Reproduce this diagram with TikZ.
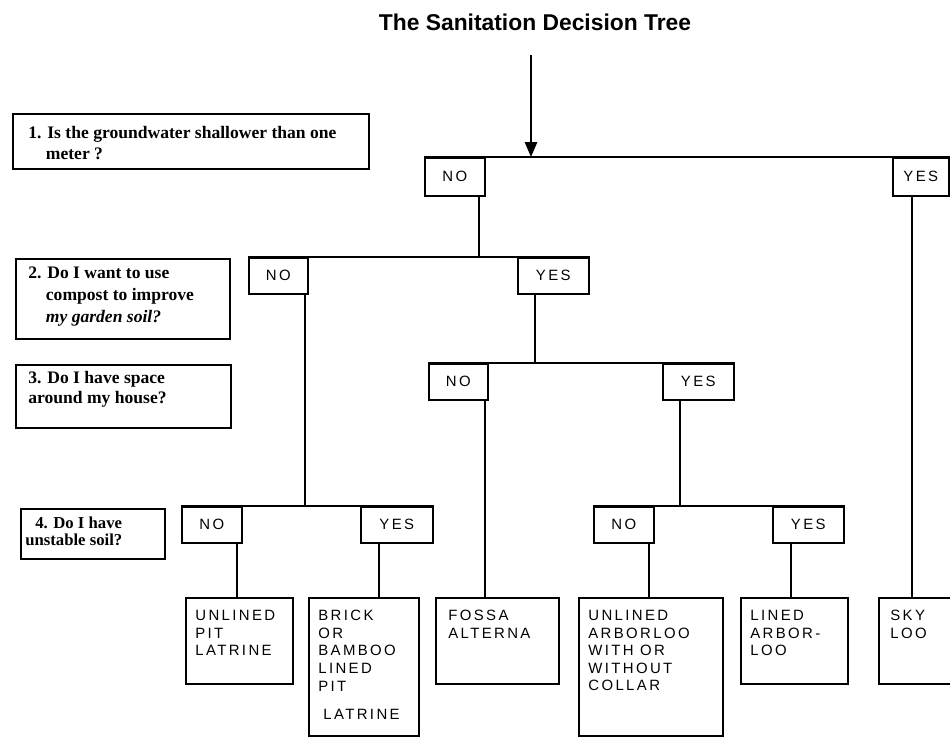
\documentclass[tikz,border=0pt]{standalone}
\usepackage{fontspec}
\setmainfont{Liberation Serif}
\newfontfamily\boxfont[LetterSpace=16]{Liberation Sans}
\newfontfamily\headfont{Liberation Sans}
\usetikzlibrary{arrows.meta}

\newdimen\pxu
\pxu=0.02cm

\tikzset{
  box/.style={draw, line width=0.9pt, anchor=north west, inner sep=0pt, minimum height=36\pxu},
  answer/.style={box, font=\boxfont\fontsize{8.5}{10}\selectfont},
  leaf/.style={box},
  leaftext/.style={anchor=north west, align=left, inner sep=0pt, font=\boxfont\fontsize{8.5}{10}\selectfont},
  question/.style={box},
  qtext/.style={anchor=north west, align=left, inner sep=0pt, font=\bfseries\fontsize{10}{12}\selectfont},
  link/.style={line width=0.9pt},
}

\begin{document}
\begin{tikzpicture}[x=0.02cm, y=-0.02cm]
    \useasboundingbox (0,0) rectangle (950,738);

    \node[font=\headfont\bfseries\fontsize{13}{15}\selectfont] (title) at (535,22) {The Sanitation Decision Tree};

    % questions on the left
    \node[question, minimum width=356\pxu, minimum height=55\pxu] (q1) at (12,113) {};
    \node[qtext] (q1text) at ([xshift=16\pxu, yshift=-13\pxu]q1.north west) {1. Is the groundwater shallower than one\\\hspace*{1em}meter ?};

    \node[question, minimum width=214\pxu, minimum height=80\pxu] (q2) at (15,258) {};
    \node[qtext, font=\bfseries\fontsize{10}{12.5}\selectfont] (q2text) at ([xshift=13\pxu, yshift=-9\pxu]q2.north west) {2. Do I want to use\\\hspace*{1em}compost to improve\\\hspace*{1em}\textit{my garden soil?}};

    \node[question, minimum width=215\pxu, minimum height=63\pxu] (q3) at (15,364) {};
    \node[qtext, font=\bfseries\fontsize{10}{11.4}\selectfont] (q3text) at ([xshift=13\pxu, yshift=-7\pxu]q3.north west) {3. Do I have space\\around my house?};

    \node[question, minimum width=144\pxu, minimum height=50\pxu] (q4) at (20,508) {};
    \node[qtext, font=\bfseries\fontsize{9.5}{9.5}\selectfont] (q4text) at ([xshift=5\pxu, yshift=-9\pxu]q4.north west) {\hspace*{10\pxu}4. Do I have\\unstable soil?};

    % answer boxes
    \node[answer, minimum width=60\pxu, minimum height=38\pxu] (no1) at (424,157) {NO};
    \node[answer, minimum width=56\pxu, minimum height=38\pxu] (yes1) at (892,157) {YES};

    \node[answer, minimum width=59\pxu] (no2) at (248,257) {NO};
    \node[answer, minimum width=71\pxu] (yes2) at (517,257) {YES};

    \node[answer, minimum width=59\pxu] (no3) at (428,363) {NO};
    \node[answer, minimum width=71\pxu] (yes3) at (662,363) {YES};

    \node[answer, minimum width=60\pxu] (no4a) at (181,506) {NO};
    \node[answer, minimum width=72\pxu] (yes4a) at (360,506) {YES};
    \node[answer, minimum width=60\pxu] (no4b) at (593,506) {NO};
    \node[answer, minimum width=71\pxu] (yes4b) at (772,506) {YES};

    % end boxes
    \node[leaf, minimum width=107\pxu, minimum height=86\pxu] (pit) at (185,597) {};
    \node[leaf, minimum width=110\pxu, minimum height=138\pxu] (brick) at (308,597) {};
    \node[leaf, minimum width=123\pxu, minimum height=86\pxu] (fossa) at (435,597) {};
    \node[leaf, minimum width=144\pxu, minimum height=138\pxu] (arbor) at (578,597) {};
    \node[leaf, minimum width=107\pxu, minimum height=86\pxu] (linedarbor) at (740,597) {};
    \node[leaf, minimum width=90\pxu, minimum height=86\pxu] (skyloo) at (878,597) {};

    \node[leaftext] (pittext) at ([xshift=10\pxu, yshift=-13\pxu]pit.north west) {UNLINED\\PIT\\LATRINE};
    \node[leaftext] (bricktext) at ([xshift=10\pxu, yshift=-13\pxu]brick.north west) {BRICK\\OR\\BAMBOO\\LINED\\PIT\\[6pt]\hspace*{5\pxu}LATRINE};
    \node[leaftext] (fossatext) at ([xshift=13\pxu, yshift=-13\pxu]fossa.north west) {FOSSA\\ALTERNA};
    \node[leaftext] (arbortext) at ([xshift=10\pxu, yshift=-13\pxu]arbor.north west) {UNLINED\\ARBORLOO\\WITH OR\\WITHOUT\\COLLAR};
    \node[leaftext] (linedarbortext) at ([xshift=10\pxu, yshift=-13\pxu]linedarbor.north west) {LINED\\ARBOR-\\LOO};
    \node[leaftext] (skylootext) at ([xshift=12\pxu, yshift=-13\pxu]skyloo.north west) {SKY\\LOO};

    % junctions
    \coordinate (start) at (531,55);
    \coordinate (j1) at (531,157);
    \coordinate (j2) at (479,257);
    \coordinate (j3) at (535,363);
    \coordinate (j4a) at (305,506);
    \coordinate (j4b) at (680,506);
    \coordinate (d1) at (237,597);
    \coordinate (d2) at (379,597);
    \coordinate (d3) at (485,597);
    \coordinate (d4) at (649,597);
    \coordinate (d5) at (791,597);
    \coordinate (d6) at (912,597);

    \draw[link, -{Triangle[width=7pt, length=8.5pt]}] (start) -- (j1);

    \draw[link] (no1.north west) -- (yes1.north east);
    \draw[link] (no2.north west) -- (yes2.north east);
    \draw[link] (no3.north west) -- (yes3.north east);
    \draw[link] (no4a.north west) -- (yes4a.north east);
    \draw[link] (no4b.north west) -- (yes4b.north east);

    \draw[link] (no1.south -| j2) -- (j2);
    \draw[link] (yes2.south -| j3) -- (j3);
    \draw[link] (no2.south -| j4a) -- (j4a);
    \draw[link] (yes3.south -| j4b) -- (j4b);

    \draw[link] (no4a.south -| d1) -- (d1);
    \draw[link] (yes4a.south -| d2) -- (d2);
    \draw[link] (no3.south -| d3) -- (d3);
    \draw[link] (no4b.south -| d4) -- (d4);
    \draw[link] (yes4b.south -| d5) -- (d5);
    \draw[link] (yes1.south -| d6) -- (d6);
\end{tikzpicture}
\end{document}
